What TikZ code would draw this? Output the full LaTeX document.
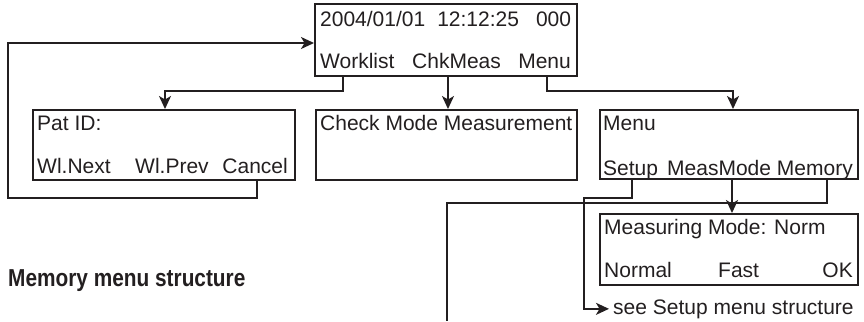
\documentclass[tikz,border=0pt]{standalone}
\usepackage{fontspec}
\setmainfont{Liberation Sans}
\newfontfamily\headfont[FakeStretch=0.85]{Liberation Sans}
\usetikzlibrary{arrows.meta}
\definecolor{ink}{RGB}{35,31,32}
\begin{document}
\begin{tikzpicture}[x=1pt,y=-1pt,
  screen/.style={draw=ink,line width=2.2pt,inner sep=0pt,anchor=north west},
  key/.style={inner sep=0pt,text=ink,font=\fontsize{21}{24}\selectfont},
  link/.style={draw=ink,line width=1.8pt},
  arr/.style={link,-{Stealth[length=13pt,width=12pt,inset=3.5pt]}}]
  \useasboundingbox (0,0) rectangle (864,321);
  % screens
  \node[screen,minimum width=262,minimum height=72] (top) at (314,3) {};
  \node[screen,minimum width=262,minimum height=70] (patid) at (32,109) {};
  \node[screen,minimum width=261,minimum height=70] (check) at (315,109) {};
  \node[screen,minimum width=258,minimum height=69] (menu) at (599,109) {};
  \node[screen,minimum width=258,minimum height=71] (mode) at (599,213) {};
  % texts on the screens
  \node[key,anchor=base west] (stamp) at (320,27) {2004/01/01\hspace{12pt}12:12:25\hspace{17pt}000};
  \node[key,anchor=base west] (worklist) at (320,68) {Worklist};
  \node[key,anchor=base west] (chkmeas) at (412,68) {ChkMeas};
  \node[key,anchor=base east] (menukey) at (571,68) {Menu};
  \node[key,anchor=base west] (pattitle) at (37,130) {Pat ID:};
  \node[key,anchor=base west] (wlnext) at (37,173) {Wl.Next};
  \node[key,anchor=base west] (wlprev) at (135,173) {Wl.Prev};
  \node[key,anchor=base east] (cancel) at (288,173) {Cancel};
  \node[key,anchor=base west] (checktitle) at (320,130) {Check Mode Measurement};
  \node[key,anchor=base west] (menutitle) at (603,130) {Menu};
  \node[key,anchor=base west] (setup) at (603,175) {Setup};
  \node[key,anchor=base west] (measmode) at (667,175) {MeasMode};
  \node[key,anchor=base east] (memory) at (853,175) {Memory};
  \node[key,anchor=base west] (modetitle) at (604,234) {Measuring Mode: Norm};
  \node[key,anchor=base west] (normal) at (604,277) {Normal};
  \node[key,anchor=base west] (fast) at (718,277) {Fast};
  \node[key,anchor=base east] (ok) at (853,277) {OK};
  \node[key,anchor=base west] (seesetup) at (613,314) {see Setup menu structure};
  \node[anchor=base west,inner sep=0pt,text=ink,font=\headfont\bfseries\fontsize{24.5}{28}\selectfont] (memhead) at (8,286) {Memory menu structure};
  % connectors
  \coordinate (loop) at (8,43);
  \coordinate (memout) at (447,321);
  \draw[arr] ([xshift=29]top.south west) -- ++(0,14) -| ([xshift=133]patid.north west);
  \draw[arr] ([xshift=134]top.south west) -- ([xshift=133]check.north west);
  \draw[arr] ([xshift=233]top.south west) -- ++(0,14) -| ([xshift=134]menu.north west);
  \draw[arr] ([xshift=225]patid.south west) -- ++(0,17) -| (loop) -- (loop -| top.west);
  \draw[arr] ([xshift=33]menu.south west) -- ++(0,18) -| ([xshift=-29]seesetup.west) -- ([xshift=-4]seesetup.west);
  \draw[arr] ([xshift=133]menu.south west) -- ([xshift=133]mode.north west);
  \draw[link] ([xshift=228]menu.south west) -- ++(0,23) -| (memout);
\end{tikzpicture}
\end{document}
